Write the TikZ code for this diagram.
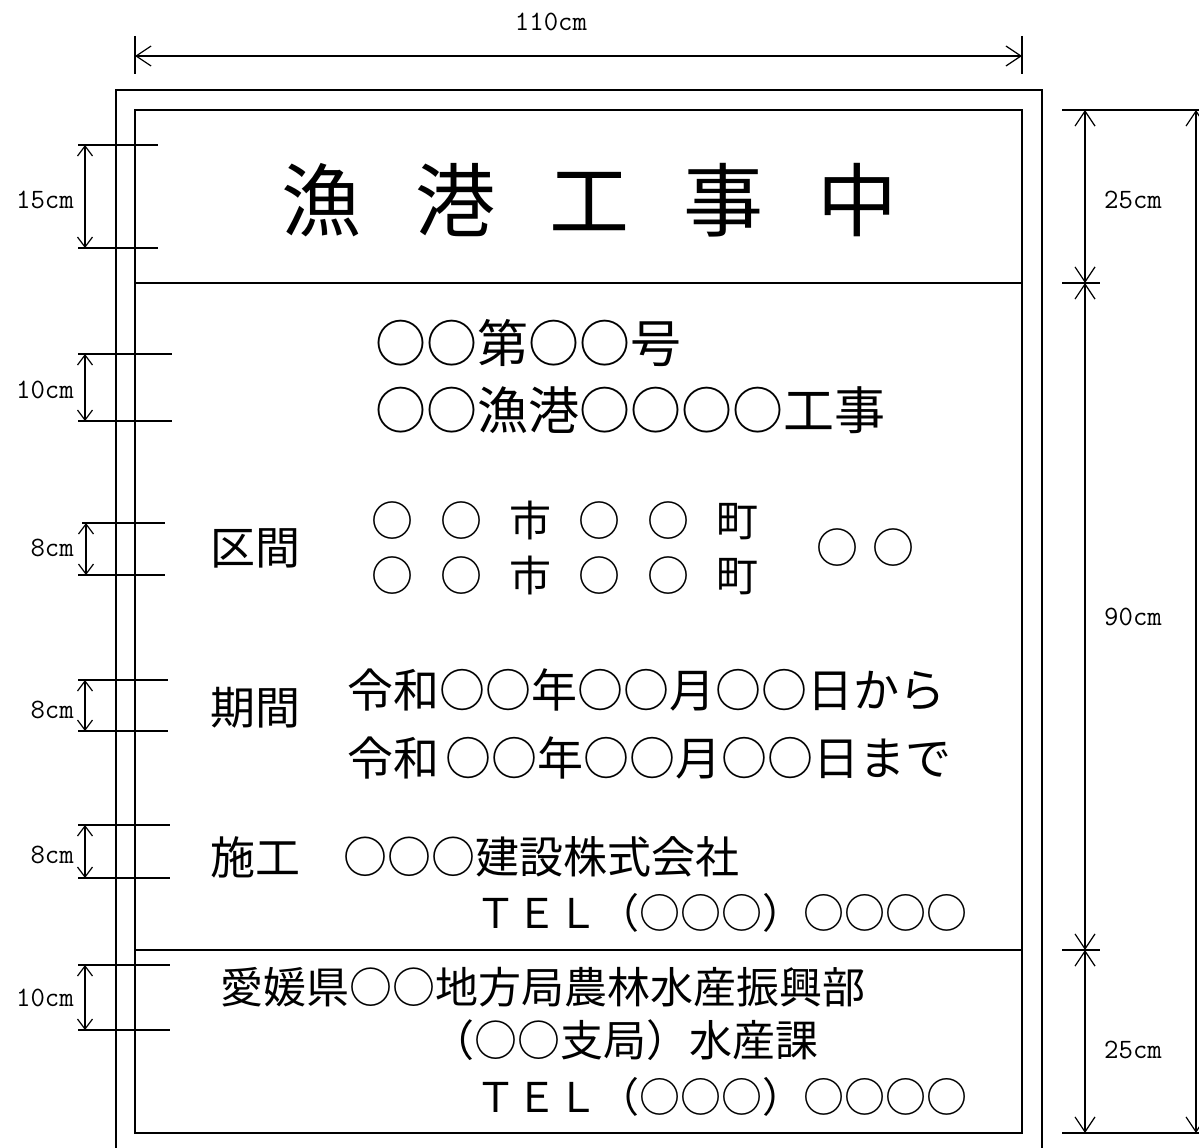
\documentclass[tikz,border=0pt]{standalone}
\usepackage{fontspec}
\newfontfamily\jpfont{Noto Sans CJK JP}
\usetikzlibrary{arrows.meta}

\newcommand{\fsz}[1]{\fontsize{#1}{#1}\selectfont}
\newcommand{\wgap}{\hspace{27pt}}

\begin{document}
\begin{tikzpicture}[x=1pt,y=-1pt,
    frame/.style={line width=1.7pt},
    extline/.style={line width=1.2pt},
    bigdim/.style={line width=1.2pt,
      {Straight Barb[length=15pt,width=20pt]}-{Straight Barb[length=15pt,width=20pt]}},
    smalldim/.style={line width=1.2pt,
      {Straight Barb[length=10pt,width=15pt]}-{Straight Barb[length=10pt,width=15pt]}},
    dimlabel/.style={font=\ttfamily\fsz{28}, inner sep=0pt},
    sign/.style={font=\jpfont, inner sep=0pt, anchor=west}]
  \useasboundingbox (0,0) rectangle (1199,1148);

  % board: outer frame and inner panel
  \draw[frame] (116,1148) -- (116,90) -- (1042,90) -- (1042,1148);
  \draw[frame] (135,110) rectangle (1022,1133);
  \draw[frame] (135,283) -- (1022,283);
  \draw[frame] (135,950) -- (1022,950);

  % width dimension
  \draw[extline] (135,36) -- (135,74);
  \draw[extline] (1022,36) -- (1022,74);
  \coordinate (wa) at (135,56);
  \coordinate (wb) at (1022,56);
  \draw[bigdim] (wa) -- (wb);
  \node[dimlabel] (wlabel) at (551,22) {110cm};

  % height dimensions on the right
  \draw[extline] (1062,110) -- (1199,110);
  \draw[extline] (1062,283) -- (1100,283);
  \draw[extline] (1062,950) -- (1100,950);
  \draw[extline] (1062,1133) -- (1199,1133);
  \coordinate (ha) at (1085,110);
  \coordinate (hb) at (1085,283);
  \coordinate (hc) at (1085,950);
  \coordinate (hd) at (1085,1133);
  \coordinate (ta) at (1196,110);
  \coordinate (tb) at (1196,1133);
  \draw[bigdim] (ha) -- (hb);
  \draw[bigdim] (hb) -- (hc);
  \draw[bigdim] (hc) -- (hd);
  \draw[bigdim] (ta) -- (tb);
  \node[dimlabel] (htop) at (1133,200) {25cm};
  \node[dimlabel] (hmid) at (1133,617) {90cm};
  \node[dimlabel] (hbot) at (1133,1050) {25cm};

  % letter heights on the left
  \draw[extline] (78,145) -- (158,145);
  \draw[extline] (78,248) -- (158,248);
  \coordinate (la1) at (85,145);
  \coordinate (lb1) at (85,248);
  \draw[smalldim] (la1) -- (lb1);
  \node[dimlabel, anchor=east] (lt1) at (74,200) {15cm};

  \draw[extline] (78,354) -- (172,354);
  \draw[extline] (78,421) -- (172,421);
  \coordinate (la2) at (85,354);
  \coordinate (lb2) at (85,421);
  \draw[smalldim] (la2) -- (lb2);
  \node[dimlabel, anchor=east] (lt2) at (74,390) {10cm};

  \draw[extline] (82,523) -- (165,523);
  \draw[extline] (78,575) -- (165,575);
  \coordinate (la3) at (86,523);
  \coordinate (lb3) at (86,575);
  \draw[smalldim] (la3) -- (lb3);
  \node[dimlabel, anchor=east] (lt3) at (74,548) {8cm};

  \draw[extline] (78,680) -- (168,680);
  \draw[extline] (78,731) -- (168,731);
  \coordinate (la4) at (85,680);
  \coordinate (lb4) at (85,731);
  \draw[smalldim] (la4) -- (lb4);
  \node[dimlabel, anchor=east] (lt4) at (74,710) {8cm};

  \draw[extline] (78,825) -- (170,825);
  \draw[extline] (78,878) -- (170,878);
  \coordinate (la5) at (85,825);
  \coordinate (lb5) at (85,878);
  \draw[smalldim] (la5) -- (lb5);
  \node[dimlabel, anchor=east] (lt5) at (74,855) {8cm};

  \draw[extline] (78,965) -- (170,965);
  \draw[extline] (78,1030) -- (170,1030);
  \coordinate (la6) at (85,965);
  \coordinate (lb6) at (85,1030);
  \draw[smalldim] (la6) -- (lb6);
  \node[dimlabel, anchor=east] (lt6) at (74,998) {10cm};

  % sign texts
  \node[sign, anchor=center, font=\jpfont\fsz{80}] (title) at (589,200)
    {漁\hspace{54pt}港\hspace{54pt}工\hspace{54pt}事\hspace{54pt}中};

  \node[sign, font=\jpfont\fsz{51}] (number) at (375,343) {○○第○○号};
  \node[sign, font=\jpfont\fsz{51}] (work) at (375,410) {○○漁港○○○○工事};

  \node[sign, font=\jpfont\fsz{45}] (kukan) at (210,548) {区間};
  \node[sign, font=\jpfont\fsz{42}] (from) at (371,520)
    {○\wgap{}○\wgap{}市\wgap{}○\wgap{}○\wgap{}町};
  \node[sign, font=\jpfont\fsz{42}] (to) at (371,575)
    {○\wgap{}○\wgap{}市\wgap{}○\wgap{}○\wgap{}町};
  \node[sign, font=\jpfont\fsz{42}] (place) at (816,548) {○\hspace{14pt}○};

  \node[sign, font=\jpfont\fsz{45}] (kikan) at (210,708) {期間};
  \node[sign, font=\jpfont\fsz{46}] (start) at (347,690) {令和○○年○○月○○日から};
  \node[sign, font=\jpfont\fsz{46}] (end) at (347,758) {令和\hspace{6pt}○○年○○月○○日まで};

  \node[sign, font=\jpfont\fsz{45}] (seko) at (210,857) {施工};
  \node[sign, font=\jpfont\fsz{44}] (company) at (343,857) {○○○建設株式会社};
  \node[sign, font=\jpfont\fsz{41}] (tel1) at (475,913) {ＴＥＬ（○○○）○○○○};

  \node[sign, font=\jpfont\fsz{43}] (office) at (220,987) {愛媛県○○地方局農林水産振興部};
  \node[sign, font=\jpfont\fsz{43}] (section) at (431,1040) {（○○支局）水産課};
  \node[sign, font=\jpfont\fsz{41}] (tel2) at (475,1097) {ＴＥＬ（○○○）○○○○};
\end{tikzpicture}
\end{document}
